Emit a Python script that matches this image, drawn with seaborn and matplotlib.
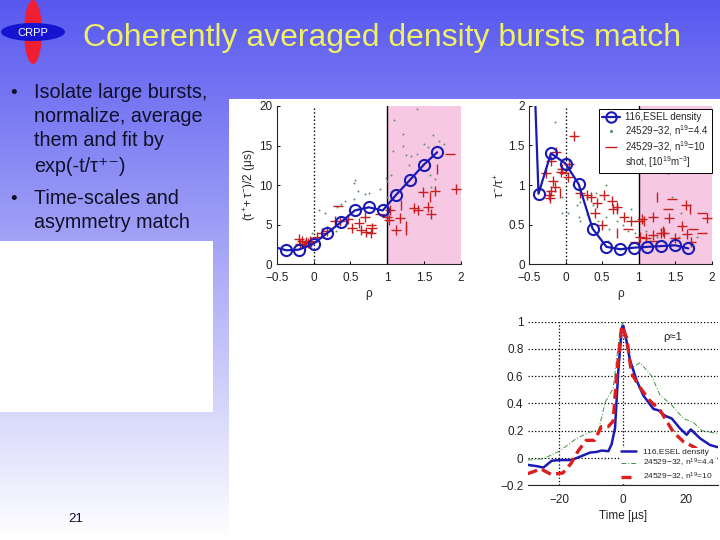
#!/usr/bin/env python3
import numpy as np
import pandas as pd
import matplotlib.pyplot as plt
from matplotlib.lines import Line2D
from matplotlib.patches import Ellipse, Rectangle
import seaborn as sns

rho_sim = [-0.5, -0.37, -0.2, 0.0, 0.18, 0.37, 0.56, 0.75, 0.94, 1.12, 1.31, 1.5, 1.68]
tau_sim = [2.1, 1.77, 1.85, 2.6, 3.9, 5.3, 6.8, 7.2, 6.8, 8.75, 10.65, 12.6, 14.15]
tau_plus_x = [-0.2, -0.18, -0.15, -0.12, -0.1, -0.07, -0.05, -0.03, 0.05, 0.12, 0.18, 0.29, 0.36, 0.47,
              0.52, 0.62, 0.65, 0.7, 0.72, 0.78, 0.8, 1.0, 1.03, 1.04, 1.12, 1.18, 1.36, 1.42, 1.55, 1.6,
              1.49, 1.65, 1.93]
tau_plus_y = [3.2, 2.6, 2.9, 2.5, 2.8, 2.7, 3.0, 2.8, 3.5, 3.9, 4.2, 5.5, 5.5, 5.7,
              4.6, 5.2, 4.3, 6.0, 4.1, 4.0, 4.6, 6.0, 5.6, 6.9, 4.3, 5.9, 7.1, 6.8, 7.2, 6.3,
              9.1, 9.3, 9.5]
tau_dash_x = [0.33, 0.78, 0.9, 1.86]
tau_dash_y = [7.4, 5.0, 6.4, 13.9]
tau_bar_x = [1.68, 1.19, 1.26, 1.25, 1.58]
tau_bar_y = [12.0, 7.5, 4.9, 4.3, 8.5]
tau_dot_x = [0.08, 0.16, 0.12, 0.32, 0.37, 0.43, 0.55, 0.55, 0.57, 0.6, 0.7, 0.75, 0.9, 0.98, 1.0, 1.05,
             1.08, 1.1, 1.22, 1.22, 1.25, 1.3, 1.33, 1.4, 1.5, 1.55, 1.62, 1.7, 1.77, 1.4, 1.58, 1.65,
             1.6, 1.0, 0.25, 0.3, -0.02, 0.1]
tau_dot_y = [6.8, 6.5, 4.5, 7.3, 7.6, 8.0, 8.2, 10.3, 10.7, 9.2, 8.9, 9.0, 9.5, 10.9, 8.5, 11.3,
             14.3, 18.2, 16.5, 15.0, 13.8, 12.5, 13.7, 13.9, 15.2, 14.8, 16.3, 15.6, 15.2, 19.6, 11.3, 10.8,
             9.8, 10.5, 4.5, 4.2, 3.9, 3.5]

rho_asym = [-0.42, -0.37, -0.2, 0.0, 0.18, 0.37, 0.56, 0.75, 0.94, 1.12, 1.31, 1.5, 1.68]
asym_sim = [2.2, 0.89, 1.4, 1.27, 1.01, 0.45, 0.22, 0.19, 0.21, 0.22, 0.23, 0.24, 0.2]
asym_plus_x = [-0.13, -0.2, -0.27, -0.05, -0.06, 0.05, 0.03, -0.17, -0.14, -0.2, -0.22, -0.21, 0.12, 0.2,
               0.3, 0.35, 0.43, 0.52, 0.4, 0.5, 0.64, 0.65, 0.7, 0.8, 0.9, 1.05, 1.02, 1.1, 1.2, 1.2,
               1.3, 1.35, 1.4, 1.42, 1.5, 1.6, 1.65, 1.66, 1.72, 1.94]
asym_plus_y = [1.41, 1.3, 1.15, 1.2, 1.17, 1.26, 1.1, 1.05, 0.98, 0.93, 0.88, 0.84, 1.62, 0.9,
               0.87, 0.85, 0.77, 0.87, 0.65, 0.5, 0.8, 0.7, 0.72, 0.6, 0.55, 0.57, 0.35, 0.33, 0.6, 0.37,
               0.4, 0.4, 1.2, 0.58, 0.33, 0.48, 0.75, 0.38, 0.28, 0.58]
asym_dash_x = [-0.02, 1.0, 0.85, 1.45, 1.4, 1.75, 1.87, 1.87, 0.95, 1.2]
asym_dash_y = [1.15, 0.55, 0.44, 0.82, 0.7, 0.45, 0.65, 0.4, 0.28, 0.3]
asym_bar_x = [0.7, 0.7, 1.25, 1.7, 1.34, 1.08, -0.07]
asym_bar_y = [0.7, 0.4, 0.85, 0.7, 0.42, 0.55, 0.9]
asym_dot_x = [-0.15, 0.0, -0.05, 0.1, 0.15, 0.2, 0.18, -0.05, 0.03, 0.2, 0.3, 0.38, 0.45, 0.55, 0.55,
              0.6, 0.7, 0.78, 0.85, 0.95, 1.0, 1.1, 1.15, 1.25, 1.3, 1.35, 1.45, 1.55, 1.58, 1.7, 1.8,
              0.58, 0.42, 0.9, 1.05]
asym_dot_y = [1.8, 1.2, 0.85, 1.0, 0.75, 0.78, 0.6, 0.65, 0.65, 0.55, 0.63, 0.75, 0.55, 0.6, 1.0,
              0.45, 0.55, 0.5, 0.42, 0.4, 0.32, 0.42, 0.3, 0.35, 0.45, 0.28, 0.85, 0.35, 0.65, 0.25, 0.35,
              0.3, 0.9, 0.7, 0.25]

t_sim = [-30, -27, -25, -22.4, -20, -16.4, -14.5, -12.4, -10.3, -8.2, -6.6, -4.5, -3.5, -2.4, -1.4, -0.3,
         0.2, 1.3, 2.3, 4.4, 6.5, 9.7, 11.3, 13.4, 15.5, 18, 20.2, 21.5, 24.4, 27.6, 30]
burst_sim = [-0.05, -0.06, -0.07, -0.02, -0.015, -0.015, 0, 0.02, 0.04, 0.045, 0.055, 0.05, 0.1, 0.22, 0.63, 0.95,
             0.97, 0.85, 0.72, 0.57, 0.46, 0.36, 0.35, 0.31, 0.29, 0.22, 0.17, 0.21, 0.145, 0.095, 0.08]
t_low = [-30, -25, -20, -14.5, -10.3, -7.6, -5.5, -3, -1, 0, 1.3, 2.8, 5.5, 9.2, 11.8, 15, 19.2, 22.4, 25, 30]
burst_low = [-0.015, -0.005, 0.05, 0.145, 0.19, 0.205, 0.41, 0.51, 0.9, 1.0, 0.8, 0.66, 0.7, 0.6, 0.46, 0.4, 0.29, 0.26, 0.2, 0.18]
t_high = [-30, -25.8, -22.6, -18.9, -16.3, -14.1, -11.5, -8.9, -6.7, -4.6, -3, -1.9, -0.3, 1.3, 2.8, 5.4, 8.6, 11.8, 16, 19.2, 23.4]
burst_high = [-0.115, -0.08, -0.12, -0.11, -0.04, 0.05, 0.13, 0.13, 0.23, 0.23, 0.27, 0.61, 0.97, 0.88, 0.62, 0.52, 0.42, 0.35, 0.19, 0.12, 0.07]

title = "Coherently averaged density bursts match"
bullets = ["Isolate large bursts,", "normalize, average", "them and fit by", "exp(-t/\u03c4\u207a\u207b)", "Time-scales and", "asymmetry match"]

BLUE = "#1a1ab4"
RED = "#c81e1e"
GREEN = "#5f8f6f"
PINK = "#f6c8e4"

sns.set_theme(style="ticks")
plt.rcParams["font.family"] = ["Liberation Sans", "DejaVu Sans"]
plt.rcParams["mathtext.fontset"] = "custom"
plt.rcParams["mathtext.rm"] = "Liberation Sans"
plt.rcParams["mathtext.it"] = "Liberation Sans"

fig = plt.figure(figsize=(7.2, 5.4), dpi=100)


def px_axes(x0, y0, x1, y1):
    return fig.add_axes([x0 / 720, 1 - y1 / 540, (x1 - x0) / 720, (y1 - y0) / 540])


# slide background
bg = fig.add_axes([0, 0, 1, 1])
bg.axis("off")
grad = np.linspace(0, 1, 256).reshape(-1, 1)
top = np.array([88, 88, 240]) / 255
bottom = np.array([255, 255, 255]) / 255
bg.imshow(top + (bottom - top) * grad[:, :, None], extent=[0, 720, 540, 0], aspect="auto")
bg.set_xlim(0, 720)
bg.set_ylim(540, 0)
bg.add_patch(Rectangle((0, 241), 213, 171, color="white", lw=0))
bg.add_patch(Rectangle((229, 99), 491, 441, color="white", lw=0))

# logo
bg.add_patch(Ellipse((33, 32), 18, 64, color="#f01e32", lw=0))
bg.add_patch(Ellipse((33, 32), 64, 18, color="#1414d2", lw=0))
bg.text(33, 32.5, "CRPP", color="white", fontsize=8, ha="center", va="center")

bg.text(382, 38, title, color="#f0f064", fontsize=22.95, ha="center", va="center")
for y, s in zip([93, 117, 141, 166, 199, 223], bullets):
    bg.text(34, y, s, color="#101028", fontsize=14.2, va="center")
bg.text(10, 93, "\u2022", color="#101028", fontsize=13.5, va="center")
bg.text(10, 199, "\u2022", color="#101028", fontsize=13.5, va="center")
bg.text(76, 519, "21", color="#101028", fontsize=9.5, ha="center", va="center")


def rho_panel(ax, rho, sim, plus_x, plus_y, dash_x, dash_y, bar_x, bar_y, dot_x, dot_y):
    ax.axvspan(1, 2, color=PINK, lw=0, zorder=0)
    ax.axvline(1, color="black", lw=1, zorder=1)
    ax.axvline(0, color="black", lw=1, ls=":", zorder=1)
    sns.scatterplot(x=dot_x, y=dot_y, ax=ax, color=GREEN, marker=".", s=8, linewidth=0, zorder=2)
    sns.scatterplot(x=plus_x, y=plus_y, ax=ax, color=RED, marker="+", s=50, linewidth=1, zorder=3)
    sns.scatterplot(x=dash_x, y=dash_y, ax=ax, color=RED, marker="_", s=50, linewidth=1, zorder=3)
    sns.scatterplot(x=bar_x, y=bar_y, ax=ax, color=RED, marker="|", s=50, linewidth=1, zorder=3)
    ax.plot(rho, sim, color=BLUE, lw=1.6, zorder=4)
    ax.plot(rho[1:], sim[1:], ls="none", marker="o", ms=8, mfc="none", mec=BLUE, mew=1.5, zorder=4)
    ax.set_xlim(-0.5, 2)
    ax.set_xticks([-0.5, 0, 0.5, 1, 1.5, 2])
    ax.set_xticklabels(["\u22120.5", "0", "0.5", "1", "1.5", "2"])
    ax.set_xlabel("\u03c1", fontsize=8.5, labelpad=3)
    ax.tick_params(labelsize=8.5, length=2.5, width=0.7, direction="in", color="black", labelcolor="#222222")
    ax.tick_params(axis="x", pad=5.5)
    ax.tick_params(axis="y", pad=3)
    sns.despine(ax=ax)
    ax.spines["left"].set_linewidth(0.8)
    ax.spines["bottom"].set_linewidth(0.8)
    ax.patch.set_alpha(0)


ax1 = px_axes(276.7, 106, 460.7, 264.3)
rho_panel(ax1, rho_sim, tau_sim, tau_plus_x, tau_plus_y, tau_dash_x, tau_dash_y,
          tau_bar_x, tau_bar_y, tau_dot_x, tau_dot_y)
ax1.set_ylim(0, 20)
ax1.set_yticks([0, 5, 10, 15, 20])
ax1.set_ylabel(r"$(\tau^{+}\!+\tau^{-})/2\ (\mu s)$", fontsize=8.5, labelpad=1)

ax2 = px_axes(529, 105.7, 711.7, 264.3)
rho_panel(ax2, rho_asym, asym_sim, asym_plus_x, asym_plus_y, asym_dash_x, asym_dash_y,
          asym_bar_x, asym_bar_y, asym_dot_x, asym_dot_y)
ax2.set_ylim(0, 2)
ax2.set_yticks([0, 0.5, 1, 1.5, 2])
ax2.set_yticklabels(["0", "0.5", "1", "1.5", "2"])
ax2.set_ylabel(r"$\tau^{-}/\tau^{+}$", fontsize=8.5, labelpad=1)
handles = [
    Line2D([], [], color=BLUE, lw=1.6, marker="o", ms=7.5, mfc="none", mew=1.5),
    Line2D([], [], color=GREEN, ls="none", marker=".", ms=2.5),
    Line2D([], [], color=RED, ls="none", marker="_", ms=8),
    Line2D([], [], ls="none"),
]
labels = ["116,ESEL density", r"24529$-$32, n$^{19}$=4.4", r"24529$-$32, n$^{19}$=10", r"shot, [10$^{19}$m$^{-3}$]"]
leg = ax2.legend(handles, labels, loc="upper right", bbox_to_anchor=(1.0, 0.978), fontsize=7, frameon=True,
                 fancybox=False, framealpha=1, edgecolor="black", labelspacing=0.1, borderpad=0.3,
                 handlelength=1.8, handletextpad=0.6, borderaxespad=0)
leg.get_frame().set_linewidth(0.7)
leg.set_zorder(6)

ax3 = px_axes(527.6, 321.7, 717.7, 485.3)
frame_sim = pd.DataFrame({"t": t_sim, "v": burst_sim})
frame_low = pd.DataFrame({"t": t_low, "v": burst_low})
frame_high = pd.DataFrame({"t": t_high, "v": burst_high})
sns.lineplot(data=frame_low, x="t", y="v", ax=ax3, color="#3c963c", lw=0.7, ls=(0, (5, 2, 1, 2)), estimator=None, label="_low")
sns.lineplot(data=frame_sim, x="t", y="v", ax=ax3, color=BLUE, lw=1.8, estimator=None, label="_sim")
sns.lineplot(data=frame_high, x="t", y="v", ax=ax3, color="#dc1e1e", lw=2.4, ls=(0, (3, 1.6)), estimator=None, label="_high")
ax3.set_xlim(-30, 30)
ax3.set_ylim(-0.2, 1)
ax3.set_xticks([-20, 0, 20])
ax3.set_xticklabels(["\u221220", "0", "20"])
ax3.set_yticks([-0.2, 0, 0.2, 0.4, 0.6, 0.8, 1])
ax3.set_yticklabels(["\u22120.2", "0", "0.2", "0.4", "0.6", "0.8", "1"])
ax3.set_xlabel("Time [\u00b5s]", fontsize=8.5, labelpad=3)
ax3.set_ylabel("")
ax3.grid(True, color="black", lw=0.9, ls=":")
ax3.get_xgridlines()[2].set_visible(False)
ax3.tick_params(labelsize=8.5, length=0, labelcolor="#222222")
ax3.tick_params(axis="x", pad=6)
ax3.tick_params(axis="y", pad=3)
ax3.patch.set_alpha(0)
for side in ["top", "right", "left"]:
    ax3.spines[side].set_visible(False)
ax3.spines["bottom"].set_linewidth(0.8)
ax3.text(18.6, 0.89, "\u03c1\u22481", fontsize=8, ha="right", va="center", color="#222222")
handles3 = [
    Line2D([], [], color=BLUE, lw=1.8),
    Line2D([], [], color="#3c963c", lw=0.7, ls=(0, (5, 2, 1, 2))),
    Line2D([], [], color="#dc1e1e", lw=2.4, ls=(0, (3, 1.6))),
]
labels3 = ["116,ESEL density", r"24529$-$32, n$^{19}$=4.4", r"24529$-$32, n$^{19}$=10"]
leg3 = ax3.legend(handles3, labels3, loc="lower right", bbox_to_anchor=(0.985, 0.012), fontsize=6, frameon=True,
                  framealpha=1, edgecolor="none", labelspacing=0.15, borderpad=0.05, handlelength=1.8,
                  handletextpad=0.8, borderaxespad=0)

fig.savefig("out.png", dpi=100)
